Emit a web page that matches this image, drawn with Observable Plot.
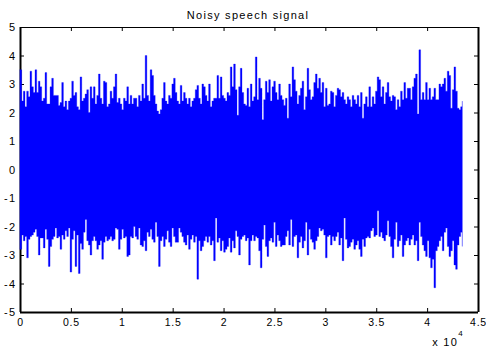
<!DOCTYPE html>
<html><head><meta charset="utf-8">
<script src="https://cdn.jsdelivr.net/npm/d3@7"></script>
<script src="https://cdn.jsdelivr.net/npm/@observablehq/plot@0.6"></script>
<style>
html,body{margin:0;padding:0;background:#fff;}
#chart{position:relative;width:486px;height:349px;}
#chart svg text{font-family:"Liberation Sans",Arial,Helvetica,sans-serif;letter-spacing:1.3px;}
#chart svg g[aria-label="x-axis tick label"] text{letter-spacing:0.8px;}
</style></head><body><div id="chart"></div>
<script>
const title = "Noisy speech signal";
const yTicks = [-5,-4,-3,-2,-1,0,1,2,3,4,5];
const xTicks = [0,5000,10000,15000,20000,25000,30000,35000,40000,45000];
const xTickLabels = ["0","0.5","1","1.5","2","2.5","3","3.5","4","4.5"];
const xMultiplier = "x 10";
const xExponent = "4";
const sampleStep = 164; // samples between successive envelope readings

// peak values, one reading every ~164 samples
const upperPeaks = [
3.5,2.4,2.75,2.2,2.75,2.55,3.45,2.9,2.7,3.5,
2.7,3.1,2.9,2.4,2.5,3.4,2.3,2.3,2.9,3.2,
2.6,2.6,2.6,2.25,2.35,3.05,2.2,2.4,2.1,2.4,
2.5,3.1,2.6,2.7,2.2,2.1,3.25,2.4,2.5,2.65,
2.8,2.0,2.9,2.5,2.9,2.3,2.6,3.35,2.5,2.3,
3.1,3.05,2.2,2.3,2.75,2.5,2.9,3.35,2.35,2.5,
2.3,2.1,2.5,2.4,2.9,2.3,2.6,2.3,2.5,2.5,
2.2,2.6,2.4,3.0,2.5,4.0,2.6,2.4,3.5,3.3,
2.6,2.3,2.05,1.95,2.1,2.5,3.05,2.4,2.3,2.6,
2.5,3.0,3.2,2.7,2.4,2.3,2.95,2.4,2.7,2.5,
2.3,2.5,2.2,2.4,2.5,2.8,2.95,2.5,2.3,3.0,
2.9,2.6,2.4,3.0,2.2,2.4,2.5,2.5,3.3,2.5,
3.25,2.6,2.5,2.4,2.7,2.6,3.6,2.9,3.7,2.8,
1.9,2.9,3.55,2.7,2.3,2.25,2.85,2.2,3.0,2.4,
2.55,3.95,2.45,3.2,2.85,1.75,2.45,3.1,2.7,3.15,
2.4,2.9,3.1,2.7,2.45,3.0,2.6,2.45,2.25,2.5,
1.8,3.0,2.55,3.6,3.15,2.75,2.3,2.6,2.85,3.1,
2.1,2.55,3.55,2.8,2.45,2.55,3.05,3.35,2.85,3.2,
2.7,3.05,2.2,2.85,2.25,2.3,2.75,2.7,2.2,2.6,
2.85,2.8,2.55,2.7,2.45,2.3,2.55,2.45,2.2,2.6,
2.45,2.3,2.6,2.2,2.7,1.8,2.3,2.55,2.2,2.9,
2.2,2.55,2.3,2.75,3.25,3.15,2.55,2.9,2.3,2.7,
3.05,2.55,2.4,2.6,2.55,2.1,2.45,2.2,2.75,2.45,
3.05,2.5,2.85,2.85,2.45,2.9,3.2,3.35,1.95,4.2,
2.45,2.7,2.45,3.05,2.45,2.85,2.45,2.55,2.85,2.45,
2.45,3.0,2.9,3.0,3.2,2.75,3.45,3.3,2.15,2.8,
3.6,2.75,2.15,2.1,2.2,2.4
];
const lowerPeaks = [
-2.8,-2.3,-2.5,-2.35,-3.1,-2.45,-2.35,-2.3,-2.2,-2.1,
-2.35,-3.0,-2.4,-2.4,-2.75,-2.1,-2.45,-3.4,-2.7,-2.45,
-2.35,-2.05,-2.4,-2.35,-2.8,-2.3,-2.45,-2.15,-2.35,-2.05,
-3.6,-2.45,-2.15,-3.4,-2.3,-3.65,-2.6,-2.8,-2.2,-1.75,
-2.5,-2.65,-3.0,-2.5,-2.35,-2.5,-2.8,-2.65,-2.5,-3.15,
-2.55,-2.35,-2.5,-2.45,-2.35,-2.5,-2.45,-2.05,-2.1,-2.8,
-2.45,-2.1,-2.4,-2.35,-3.05,-3.0,-2.35,-2.4,-2.0,-2.35,
-2.45,-2.05,-2.65,-2.7,-2.5,-2.85,-2.2,-2.35,-2.1,-2.45,
-2.55,-1.85,-2.35,-3.4,-2.5,-2.35,-2.7,-2.45,-2.15,-2.55,
-2.7,-2.05,-2.35,-2.55,-2.55,-2.05,-2.2,-2.35,-2.55,-2.65,
-2.3,-2.8,-2.45,-2.3,-2.55,-2.35,-3.85,-2.5,-2.85,-2.7,
-2.5,-2.35,-2.55,-2.35,-2.65,-2.5,-3.2,-1.7,-2.55,-2.4,
-2.85,-2.5,-2.9,-2.8,-2.7,-2.4,-2.9,-2.5,-2.75,-2.15,
-2.35,-3.0,-2.45,-2.35,-2.3,-2.5,-2.4,-3.35,-2.5,-2.3,
-2.5,-2.35,-2.4,-2.85,-3.45,-2.45,-1.95,-2.7,-3.05,-2.5,
-2.4,-2.55,-1.85,-2.7,-2.3,-2.5,-2.7,-2.65,-2.65,-2.35,
-2.15,-2.65,-1.75,-2.7,-2.35,-2.3,-3.1,-2.55,-2.35,-2.75,
-2.5,-1.85,-3.0,-2.1,-2.45,-2.55,-2.8,-2.5,-2.35,-2.05,
-2.15,-2.1,-2.3,-3.1,-2.35,-2.3,-2.65,-2.35,-2.5,-2.35,
-2.2,-2.65,-2.4,-3.2,-1.7,-2.45,-2.75,-2.7,-2.55,-2.45,
-2.8,-2.65,-2.5,-2.8,-3.05,-2.45,-2.7,-2.4,-2.35,-2.4,
-2.15,-2.05,-2.35,-2.3,-1.45,-2.35,-2.2,-2.4,-2.5,-2.3,
-1.8,-2.35,-2.7,-3.1,-2.45,-1.85,-2.7,-2.5,-2.3,-3.05,
-2.65,-2.5,-2.4,-2.65,-2.45,-2.3,-2.65,-2.5,-3.2,-1.85,
-2.35,-2.65,-2.85,-3.05,-2.5,-3.1,-3.45,-3.15,-4.15,-2.85,
-2.7,-2.5,-2.35,-2.85,-2.2,-2.05,-2.7,-3.05,-2.85,-2.5,
-3.35,-3.5,-2.65,-2.35,-2.2,-2.7
];

// one column per reading, spanning from the negative to the positive peak
const columns = upperPeaks.map((v, i) => ({n: i * sampleStep, hi: v, lo: lowerPeaks[i]}));

const W = 486, H = 349, mL = 20, mR = 8, mT = 27, mB = 37;
const innerW = W - mL - mR, innerH = H - mT - mB;
const tickLen = 4;
const xDomain = [xTicks[0], xTicks[xTicks.length - 1]];
const yDomain = [yTicks[0], yTicks[yTicks.length - 1]];

const svg = Plot.plot({
  width: W, height: H,
  marginLeft: mL, marginRight: mR, marginTop: mT, marginBottom: mB,
  style: {fontSize: "11px", fontFamily: '"Liberation Sans", Arial, Helvetica, sans-serif', background: "white", color: "black", overflow: "visible"},
  x: {domain: xDomain},
  y: {domain: yDomain},
  marks: [
    Plot.ruleY([yDomain[1]], {stroke: "black", strokeWidth: 1}),
    Plot.ruleY([yDomain[0]], {stroke: "black", strokeWidth: 2}),
    Plot.ruleX([xDomain[0]], {stroke: "black", strokeWidth: 2}),
    Plot.ruleX([xDomain[1]], {stroke: "black", strokeWidth: 2}),
    Plot.tickX(xTicks, {x: d => d, insetTop: innerH - tickLen, stroke: "black"}),
    Plot.tickX(xTicks, {x: d => d, insetBottom: innerH - tickLen, stroke: "black"}),
    Plot.tickY(yTicks, {y: d => d, insetRight: innerW - tickLen, stroke: "black"}),
    Plot.tickY(yTicks, {y: d => d, insetLeft: innerW - tickLen, stroke: "black"}),
    Plot.areaY(columns, {x: "n", y1: "lo", y2: "hi", curve: "step-after", fill: "#0000ff", stroke: "#0000ff", strokeWidth: 0.3}),
    Plot.axisY(yTicks, {tickSize: 0, tickPadding: 4, tickFormat: d => String(d), label: null}),
    Plot.axisX(xTicks, {tickSize: 0, tickPadding: 6, fontSize: 10.5, tickFormat: (d, i) => xTickLabels[i], label: null})
  ]
});
document.getElementById("chart").appendChild(svg);

const s = d3.select(svg);
s.append("text").attr("x", 248).attr("y", 19).attr("text-anchor", "middle")
  .attr("font-size", 11).attr("fill", "black").text(title);
const m = s.append("text").attr("x", 448).attr("y", 346).attr("font-size", 11).attr("fill", "black");
m.append("tspan").text(xMultiplier);
m.append("tspan").attr("dy", -10).attr("font-size", 8).text(xExponent);
</script></body></html>
